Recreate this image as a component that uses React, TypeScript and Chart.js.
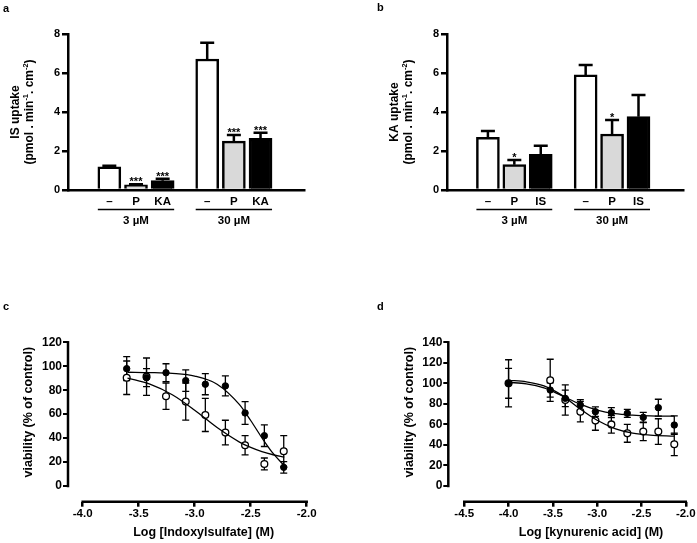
import React, { useEffect, useRef } from 'react';
import { Chart, registerables } from 'chart.js';

Chart.register(...registerables);

const FONT = '"Liberation Sans", Arial, Helvetica, sans-serif';
const CW = 720;
const CH = 543;

// ---------------- Panel a ----------------
const aLabels = ['–', 'P', 'KA', '–', 'P', 'KA'];
const aSlots = [1, 2, 3, 4.67, 5.67, 6.67];
const aMean = [1.19, 0.26, 0.48, 6.72, 2.51, 2.65];
const aSem = [0.06, 0.04, 0.1, 0.83, 0.31, 0.29];
const aStars = ['', '***', '***', '', '***', '***'];
const aGroups = ['3 µM', '30 µM'];

// ---------------- Panel b ----------------
const bLabels = ['–', 'P', 'IS', '–', 'P', 'IS'];
const bSlots = [1, 2, 3, 4.7, 5.7, 6.7];
const bMean = [2.7, 1.3, 1.83, 5.9, 2.87, 3.76];
const bSem = [0.32, 0.24, 0.44, 0.51, 0.72, 1.11];
const bStars = ['', '*', '', '', '*', ''];
const bGroups = ['3 µM', '30 µM'];

const barYTicks = [0, 2, 4, 6, 8];

// ---------------- Panel c ----------------
const cLogConc = [-3.607, -3.43, -3.256, -3.08, -2.905, -2.726, -2.55, -2.378, -2.205];
const cFilledMean = [98, 90.5, 94.6, 88, 85, 83.6, 61, 42, 15.6];
const cFilledSem = [10, 7.5, 7.5, 9, 8.8, 8.4, 9.5, 9, 4.8];
const cOpenMean = [90.4, 91.3, 75, 70.5, 59.3, 44.6, 34, 18.4, 29];
const cOpenSem = [14, 15.6, 11, 15.5, 13.8, 10.3, 8, 5, 13];
const cFitX = [-3.6, -3.4, -3.2, -3.0, -2.8, -2.6, -2.5, -2.4, -2.3, -2.2];
const cFitFilled = [95, 94.7, 94.0, 91.8, 85, 67.9, 54.7, 40.3, 27.2, 17];
const cFitOpen = [90.1, 85, 76.2, 63.3, 48.8, 36.7, 32.2, 28.7, 26.1, 24.2];
const cXTicks = [-4.0, -3.5, -3.0, -2.5, -2.0];
const cYTicks = [0, 20, 40, 60, 80, 100, 120];

// ---------------- Panel d ----------------
const dLogConc = [-4.0, -3.53, -3.36, -3.19, -3.02, -2.84, -2.66, -2.48, -2.31, -2.13];
const dFilledMean = [100, 93.5, 85.4, 79, 72.4, 71.5, 70.8, 66.9, 76.3, 59.4];
const dFilledSem = [14.5, 7, 8, 5.2, 4.6, 4.8, 3.9, 4.8, 8.2, 9];
const dOpenMean = [100, 103, 83.8, 72.4, 63.7, 60, 51.3, 53, 53, 40.6];
const dOpenSem = [23, 20.5, 14.7, 10, 9.4, 8.5, 8.7, 8.8, 12.5, 11];
const dFitX = [-4.0, -3.8, -3.6, -3.4, -3.2, -3.0, -2.8, -2.6, -2.4, -2.13];
const dFitOpen = [103, 101.5, 97.5, 88.5, 75.5, 64, 56, 51.5, 49.5, 48.5];
const dFitFilled = [101, 99.5, 95.5, 88, 80, 74, 70.5, 69, 68.3, 68];
const dXTicks = [-4.5, -4.0, -3.5, -3.0, -2.5, -2.0];
const dYTicks = [0, 20, 40, 60, 80, 100, 120, 140];

// ---------------- styles ----------------
const barFills = ['#ffffff', '#d9d9d9', '#000000', '#ffffff', '#d9d9d9', '#000000'];
const BAR_W = 23;

type Part = { t: string; sup?: boolean };

function drawRich(ctx: CanvasRenderingContext2D, parts: Part[], cx: number, cy: number, size: number, rotate: boolean) {
  ctx.save();
  ctx.translate(cx, cy);
  if (rotate) ctx.rotate(-Math.PI / 2);
  const supSize = size * 0.62;
  let total = 0;
  for (const p of parts) {
    ctx.font = `bold ${p.sup ? supSize : size}px ${FONT}`;
    total += ctx.measureText(p.t).width;
  }
  let x = -total / 2;
  ctx.textAlign = 'left';
  ctx.textBaseline = 'middle';
  ctx.fillStyle = '#000';
  for (const p of parts) {
    ctx.font = `bold ${p.sup ? supSize : size}px ${FONT}`;
    ctx.fillText(p.t, x, p.sup ? -size * 0.36 : 0);
    x += ctx.measureText(p.t).width;
  }
  ctx.restore();
}

function drawLetter(ctx: CanvasRenderingContext2D, letter: string, x: number, y: number) {
  ctx.save();
  ctx.font = `bold 11px ${FONT}`;
  ctx.fillStyle = '#000';
  ctx.textAlign = 'left';
  ctx.textBaseline = 'middle';
  ctx.fillText(letter, x, y);
  ctx.restore();
}

type BarPanel = {
  id: string;
  letter: string;
  letterPos: [number, number];
  labels: string[];
  slots: number[];
  mean: number[];
  sem: number[];
  stars: string[];
  groups: string[];
  xMin: number;
  xMax: number;
  pad: { left: number; right: number; top: number; bottom: number };
  title1: string;
  title2: Part[];
};

function makeBarConfig(p: BarPanel): any {
  const plugin = {
    id: p.id,
    afterDraw(chart: any) {
      const ctx: CanvasRenderingContext2D = chart.ctx;
      const xs = chart.scales.x;
      const ys = chart.scales.y;
      const ca = chart.chartArea;
      ctx.save();
      ctx.strokeStyle = '#000';
      ctx.fillStyle = '#000';
      ctx.lineWidth = 2.5;
      ctx.lineCap = 'butt';
      p.mean.forEach((m, i) => {
        const x = xs.getPixelForValue(p.slots[i]);
        const y0 = ys.getPixelForValue(m);
        const y1 = ys.getPixelForValue(m + p.sem[i]);
        ctx.beginPath();
        ctx.moveTo(x, y0);
        ctx.lineTo(x, y1);
        ctx.moveTo(x - 7, y1);
        ctx.lineTo(x + 7, y1);
        ctx.stroke();
        if (p.stars[i]) {
          ctx.font = `bold 11px ${FONT}`;
          ctx.textAlign = 'center';
          ctx.textBaseline = 'alphabetic';
          ctx.fillText(p.stars[i], x, y1 + 1);
        }
      });
      p.groups.forEach((g, gi) => {
        const xl = xs.getPixelForValue(p.slots[gi * 3]) - BAR_W / 2;
        const xr = xs.getPixelForValue(p.slots[gi * 3 + 2]) + BAR_W / 2;
        const yl = ca.bottom + 19.5;
        ctx.lineWidth = 1.5;
        ctx.beginPath();
        ctx.moveTo(xl, yl);
        ctx.lineTo(xr, yl);
        ctx.stroke();
        ctx.font = `bold 11.5px ${FONT}`;
        ctx.textAlign = 'center';
        ctx.textBaseline = 'middle';
        ctx.fillText(g, (xl + xr) / 2, ca.bottom + 30.5);
      });
      ctx.restore();
      const cy = (ca.top + ca.bottom) / 2;
      drawRich(ctx, [{ t: p.title1 }], ca.left - 52, cy, 12, true);
      drawRich(ctx, p.title2, ca.left - 38, cy, 12, true);
      drawLetter(ctx, p.letter, p.letterPos[0], p.letterPos[1]);
    },
  };
  return {
    type: 'bar',
    data: {
      datasets: [
        {
          data: p.slots.map((s, i) => ({ x: s, y: p.mean[i] })),
          backgroundColor: barFills,
          borderColor: '#000',
          borderWidth: 2.5,
          barThickness: BAR_W,
          borderSkipped: 'start',
        },
      ],
    },
    options: {
      responsive: false,
      animation: false,
      devicePixelRatio: 1,
      layout: { padding: p.pad },
      plugins: { legend: { display: false }, tooltip: { enabled: false } },
      scales: {
        x: {
          type: 'linear',
          min: p.xMin,
          max: p.xMax,
          afterBuildTicks: (s: any) => {
            s.ticks = p.slots.map((v) => ({ value: v }));
          },
          afterFit: (s: any) => {
            s.height = 30;
          },
          grid: { display: true, drawOnChartArea: false, drawTicks: false, color: 'rgba(0,0,0,0)', lineWidth: 2.5 },
          border: { display: true, width: 2.5, color: '#000' },
          ticks: {
            autoSkip: false,
            maxRotation: 0,
            padding: 5,
            color: '#000',
            font: { family: FONT, size: 11.5, weight: 'bold' },
            callback: (_v: any, i: number) => p.labels[i],
          },
        },
        y: {
          type: 'linear',
          min: 0,
          max: 8,
          afterBuildTicks: (s: any) => {
            s.ticks = barYTicks.map((v) => ({ value: v }));
          },
          afterFit: (s: any) => {
            s.width = 48;
          },
          grid: { drawOnChartArea: false, drawTicks: true, tickLength: 6, lineWidth: 2.5, color: '#000' },
          border: { display: true, width: 2.5, color: '#000' },
          ticks: { padding: 2, color: '#000', font: { family: FONT, size: 11, weight: 'bold' } },
        },
      },
    },
    plugins: [plugin],
  };
}

type CurvePanel = {
  id: string;
  letter: string;
  letterPos: [number, number];
  x: number[];
  fMean: number[];
  fSem: number[];
  oMean: number[];
  oSem: number[];
  fitX: number[];
  fitF: number[];
  fitO: number[];
  xMin: number;
  xMax: number;
  xTicks: number[];
  yMin: number;
  yMax: number;
  yTicks: number[];
  pad: { left: number; right: number; top: number; bottom: number };
  xTitle: string;
  xTitleShift: number;
  yTitle: string;
};

function makeCurveConfig(p: CurvePanel): any {
  const errPlugin = {
    id: p.id + 'err',
    beforeDatasetsDraw(chart: any) {
      const ctx: CanvasRenderingContext2D = chart.ctx;
      const xs = chart.scales.x;
      const ys = chart.scales.y;
      ctx.save();
      ctx.strokeStyle = '#000';
      ctx.lineWidth = 1.3;
      const draw = (mean: number[], sem: number[]) => {
        mean.forEach((m, i) => {
          const x = xs.getPixelForValue(p.x[i]);
          const yh = ys.getPixelForValue(m + sem[i]);
          const yl = ys.getPixelForValue(m - sem[i]);
          ctx.beginPath();
          ctx.moveTo(x, yh);
          ctx.lineTo(x, yl);
          ctx.moveTo(x - 3.5, yh);
          ctx.lineTo(x + 3.5, yh);
          ctx.moveTo(x - 3.5, yl);
          ctx.lineTo(x + 3.5, yl);
          ctx.stroke();
        });
      };
      draw(p.fMean, p.fSem);
      draw(p.oMean, p.oSem);
      ctx.restore();
    },
    afterDraw(chart: any) {
      const ctx: CanvasRenderingContext2D = chart.ctx;
      const xs = chart.scales.x;
      const ys = chart.scales.y;
      const ca = chart.chartArea;
      ctx.save();
      ctx.strokeStyle = '#000';
      ctx.lineWidth = 2.5;
      ctx.lineCap = 'square';
      const y0 = ys.getPixelForValue(p.yTicks[0]);
      const y1 = ys.getPixelForValue(p.yTicks[p.yTicks.length - 1]);
      ctx.beginPath();
      ctx.moveTo(ca.left, y0);
      ctx.lineTo(ca.left, y1);
      ctx.stroke();
      const x0 = xs.getPixelForValue(p.xTicks[0]);
      const x1 = xs.getPixelForValue(p.xTicks[p.xTicks.length - 1]);
      ctx.beginPath();
      ctx.moveTo(x0, ca.bottom);
      ctx.lineTo(x1, ca.bottom);
      ctx.stroke();
      ctx.restore();
      drawRich(ctx, [{ t: p.yTitle }], ca.left - 39, (y0 + y1) / 2 - 2, 12.5, true);
      drawRich(ctx, [{ t: p.xTitle }], (x0 + x1) / 2 + p.xTitleShift, ca.bottom + 31, 12.5, false);
      drawLetter(ctx, p.letter, p.letterPos[0], p.letterPos[1]);
    },
  };
  const pts = (xs: number[], ys: number[]) => xs.map((x, i) => ({ x, y: ys[i] }));
  return {
    type: 'scatter',
    data: {
      datasets: [
        {
          data: pts(p.fitX, p.fitF),
          showLine: true,
          borderColor: '#000',
          borderWidth: 1.3,
          pointRadius: 0,
          cubicInterpolationMode: 'monotone',
          fill: false,
        },
        {
          data: pts(p.fitX, p.fitO),
          showLine: true,
          borderColor: '#000',
          borderWidth: 1.3,
          pointRadius: 0,
          cubicInterpolationMode: 'monotone',
          fill: false,
        },
        {
          data: pts(p.x, p.fMean),
          showLine: false,
          pointRadius: 3.2,
          pointBackgroundColor: '#000',
          pointBorderColor: '#000',
          pointBorderWidth: 1,
        },
        {
          data: pts(p.x, p.oMean),
          showLine: false,
          pointRadius: 3.4,
          pointBackgroundColor: '#fff',
          pointBorderColor: '#000',
          pointBorderWidth: 1.3,
        },
      ],
    },
    options: {
      responsive: false,
      animation: false,
      devicePixelRatio: 1,
      layout: { padding: p.pad },
      plugins: { legend: { display: false }, tooltip: { enabled: false } },
      scales: {
        x: {
          type: 'linear',
          min: p.xMin,
          max: p.xMax,
          afterBuildTicks: (s: any) => {
            s.ticks = p.xTicks.map((v) => ({ value: v }));
          },
          afterFit: (s: any) => {
            s.height = 30;
          },
          grid: { drawOnChartArea: false, drawTicks: true, tickLength: 5, lineWidth: 2.5, color: '#000' },
          border: { display: false },
          ticks: {
            autoSkip: false,
            maxRotation: 0,
            padding: 0,
            color: '#000',
            font: { family: FONT, size: 11.5, weight: 'bold' },
            callback: (v: any) => Number(v).toFixed(1),
          },
        },
        y: {
          type: 'linear',
          min: p.yMin,
          max: p.yMax,
          afterBuildTicks: (s: any) => {
            s.ticks = p.yTicks.map((v) => ({ value: v }));
          },
          afterFit: (s: any) => {
            s.width = 48;
          },
          grid: { drawOnChartArea: false, drawTicks: true, tickLength: 5, lineWidth: 2, color: '#000' },
          border: { display: false },
          ticks: { padding: 1, color: '#000', font: { family: FONT, size: 12, weight: 'bold' } },
        },
      },
    },
    plugins: [errPlugin],
  };
}

const uptakeUnits = (): Part[] => [
  { t: '(pmol . min' },
  { t: '-1', sup: true },
  { t: '. cm' },
  { t: '-2', sup: true },
  { t: ')' },
];

const configA = () =>
  makeBarConfig({
    id: 'pa',
    letter: 'a',
    letterPos: [3, 9],
    labels: aLabels,
    slots: aSlots,
    mean: aMean,
    sem: aSem,
    stars: aStars,
    groups: aGroups,
    xMin: 0.1875,
    xMax: 7.5625,
    pad: { left: 20, right: CW - 304, top: 34, bottom: CH - 190 - 30 },
    title1: 'IS uptake',
    title2: uptakeUnits(),
  });

const configB = () =>
  makeBarConfig({
    id: 'pb',
    letter: 'b',
    letterPos: [377, 8],
    labels: bLabels,
    slots: bSlots,
    mean: bMean,
    sem: bSem,
    stars: bStars,
    groups: bGroups,
    xMin: 0.196,
    xMax: 7.64,
    pad: { left: 399, right: CW - 683, top: 34, bottom: CH - 190 - 30 },
    title1: 'KA uptake',
    title2: uptakeUnits(),
  });

const configC = () =>
  makeCurveConfig({
    id: 'pc',
    letter: 'c',
    letterPos: [3, 307],
    x: cLogConc,
    fMean: cFilledMean,
    fSem: cFilledSem,
    oMean: cOpenMean,
    oSem: cOpenSem,
    fitX: cFitX,
    fitF: cFitFilled,
    fitO: cFitOpen,
    xMin: -4.131,
    xMax: -2.0,
    xTicks: cXTicks,
    yMin: -13.1,
    yMax: 120,
    yTicks: cYTicks,
    pad: { left: 20, right: CW - 306.7, top: 342.3, bottom: CH - 501.7 - 30 },
    xTitle: 'Log [Indoxylsulfate] (M)',
    xTitleShift: 9,
    yTitle: 'viability (% of control)',
  });

const configD = () =>
  makeCurveConfig({
    id: 'pd',
    letter: 'd',
    letterPos: [377, 306.5],
    x: dLogConc,
    fMean: dFilledMean,
    fSem: dFilledSem,
    oMean: dOpenMean,
    oSem: dOpenSem,
    fitX: dFitX,
    fitF: dFitFilled,
    fitO: dFitOpen,
    xMin: -4.68,
    xMax: -2.0,
    xTicks: dXTicks,
    yMin: -15.3,
    yMax: 140,
    yTicks: dYTicks,
    pad: { left: 400.3, right: CW - 685.8, top: 342.3, bottom: CH - 501.7 - 30 },
    xTitle: 'Log [kynurenic acid] (M)',
    xTitleShift: 16,
    yTitle: 'viability (% of control)',
  });

function ChartCanvas({ make }: { make: () => any }) {
  const ref = useRef<HTMLCanvasElement>(null);
  useEffect(() => {
    if (!ref.current) return;
    const chart = new Chart(ref.current, make());
    return () => chart.destroy();
  }, [make]);
  return (
    <canvas
      ref={ref}
      width={CW}
      height={CH}
      style={{ position: 'absolute', left: 0, top: 0, width: CW, height: CH }}
    />
  );
}

export default function App() {
  return (
    <div
      style={{
        position: 'absolute',
        left: 0,
        top: 0,
        width: 697,
        height: 543,
        overflow: 'hidden',
        background: '#ffffff',
      }}
    >
      <ChartCanvas make={configA} />
      <ChartCanvas make={configB} />
      <ChartCanvas make={configC} />
      <ChartCanvas make={configD} />
    </div>
  );
}
